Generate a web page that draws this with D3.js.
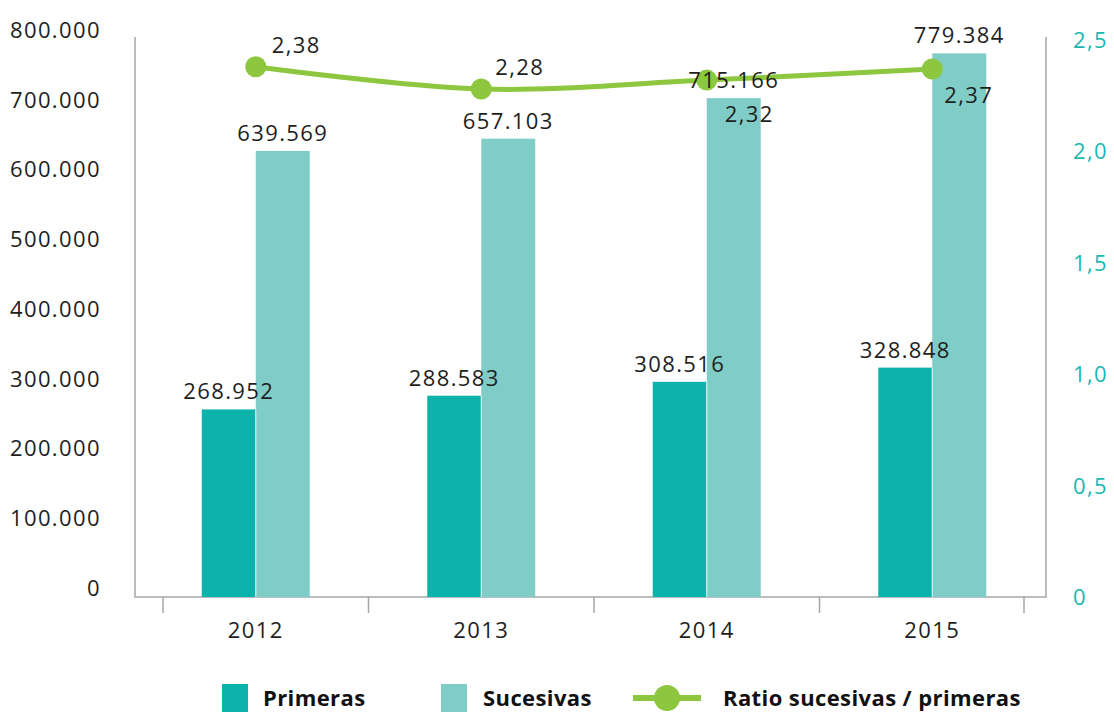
<!DOCTYPE html>
<html><head><meta charset="utf-8">
<script src="https://cdn.jsdelivr.net/npm/d3@7"></script>
<style>
html,body{margin:0;padding:0;background:#fff;}
svg{display:block;font-family:"Open Sans",sans-serif;}
</style></head>
<body><svg id="c" width="1114" height="715"></svg>
<script>
const years = ["2012","2013","2014","2015"];
const primeras = [268952, 288583, 308516, 328848];
const sucesivas = [639569, 657103, 715166, 779384];
const ratio = [2.38, 2.28, 2.32, 2.37];
const leftTicks = [0,100000,200000,300000,400000,500000,600000,700000,800000];
const rightTicks = [0,0.5,1.0,1.5,2.0,2.5];
const seriesNames = ["Primeras","Sucesivas","Ratio sucesivas / primeras"];

(function(){
const C1 = "#0bb3aa", C2 = "#80cdc8", CG = "#8dc63f", AX = "#a6a6a6", TXT = "#1e1e1e";
const fmtThousands = v => d3.format(",")(v).replace(/,/g,".");
const fmtComma1 = v => d3.format(".1f")(v).replace(".",",");
const fmtComma2 = v => d3.format(".2f")(v).replace(".",",");

const svg = d3.select("#c");
const pL = 135, pR = 1046, pT = 39, pB = 597;

const x = d3.scaleBand().domain(years).range([143, 1045]).padding(0);
const inner = d3.scaleBand().domain(["p","s"]).range([-54, 54]).padding(0);
const yL = d3.scaleLinear().domain([0, 800000]).range([pB, pT]);
const yR = d3.scaleLinear().domain([0, 2.5]).range([pB, 40]);

const g = svg.append("g");
g.append("path").attr("d", `M${pL},${pT-2}V${pB}H${pR}V${pT-2}`)
  .attr("fill","none").attr("stroke",AX).attr("stroke-width",1.5);
const bounds = years.map(d => x(d)).concat([x.range()[1]]);
bounds.forEach((b,i) => {
  let bx = b;
  if (i === 0) bx = b + 20;
  if (i === bounds.length-1) bx = b - 21;
  g.append("line").attr("x1",bx).attr("x2",bx).attr("y1",pB).attr("y2",pB+16)
    .attr("stroke",AX).attr("stroke-width",1.5);
});

const tstyle = sel => sel.attr("font-size",22).attr("letter-spacing",1.4).attr("fill",TXT);

g.selectAll(".lt").data(leftTicks).join("text")
  .attr("x",101).attr("y",d => yL(d) - 9).attr("dy","0.36em").attr("text-anchor","end")
  .text(d => d === 0 ? "0" : fmtThousands(d)).call(tstyle);
g.selectAll(".rt").data(rightTicks).join("text")
  .attr("x",1073).attr("y",d => yR(d)).attr("dy","0.36em").attr("text-anchor","start")
  .text(d => d === 0 ? "0" : fmtComma1(d)).call(tstyle).attr("fill","#1ab8b0");
g.selectAll(".ct").data(years).join("text")
  .attr("x",d => x(d)+x.bandwidth()/2).attr("y",638).attr("text-anchor","middle")
  .text(d => d).call(tstyle);

const cx = d => x(d) + x.bandwidth()/2;
const barData = [];
years.forEach((yr,i) => {
  barData.push({yr, k:"p", v:primeras[i], c:C1});
  barData.push({yr, k:"s", v:sucesivas[i], c:C2});
});
g.selectAll(".bar").data(barData).join("rect")
  .attr("x", d => cx(d.yr) + inner(d.k)).attr("width", inner.bandwidth())
  .attr("y", d => yL(d.v)).attr("height", d => pB - yL(d.v)).attr("fill", d => d.c);
g.selectAll(".sep").data(years).join("line")
  .attr("x1",d=>cx(d)).attr("x2",d=>cx(d)).attr("y1",(d,i)=>yL(primeras[i])).attr("y2",pB)
  .attr("stroke","#fff").attr("stroke-width",1.2).attr("opacity",0.7);

const pts = years.map((yr,i) => [cx(yr), yR(ratio[i])]);
g.append("path").attr("d", d3.line().curve(d3.curveCatmullRom.alpha(0.5))(pts))
  .attr("fill","none").attr("stroke",CG).attr("stroke-width",5).attr("stroke-linecap","round");
g.selectAll(".pt").data(pts).join("circle")
  .attr("cx",d=>d[0]).attr("cy",d=>d[1]).attr("r",10.5).attr("fill",CG);

g.selectAll(".bl").data(barData).join("text")
  .attr("x", d => cx(d.yr) + inner(d.k) + inner.bandwidth()/2)
  .attr("y", d => yL(d.v) - 10).attr("text-anchor","middle")
  .text(d => fmtThousands(d.v)).call(tstyle);

const ratioLabelOffsets = [[16,-14],[14,-14],[18,42],[12,34]];
g.selectAll(".rl").data(pts).join("text")
  .attr("x",(d,i)=>d[0]+ratioLabelOffsets[i][0]).attr("y",(d,i)=>d[1]+ratioLabelOffsets[i][1])
  .attr("text-anchor","start").text((d,i)=>fmtComma2(ratio[i])).call(tstyle);

const lg = svg.append("g");
const ly = 698;
lg.append("rect").attr("x",222).attr("y",ly-14).attr("width",26).attr("height",28).attr("fill",C1);
lg.append("rect").attr("x",441).attr("y",ly-14).attr("width",26).attr("height",28).attr("fill",C2);
lg.append("line").attr("x1",633).attr("x2",701).attr("y1",ly).attr("y2",ly).attr("stroke",CG).attr("stroke-width",6);
lg.append("circle").attr("cx",667).attr("cy",ly).attr("r",13).attr("fill",CG);
const lx = [263, 483, 723];
seriesNames.forEach((n,i) => {
  lg.append("text").attr("x",lx[i]).attr("y",ly).attr("dy","0.36em")
    .attr("font-size",22).attr("font-weight",700).attr("fill","#111").attr("letter-spacing",0.4).text(n);
});
})();
</script></body></html>
